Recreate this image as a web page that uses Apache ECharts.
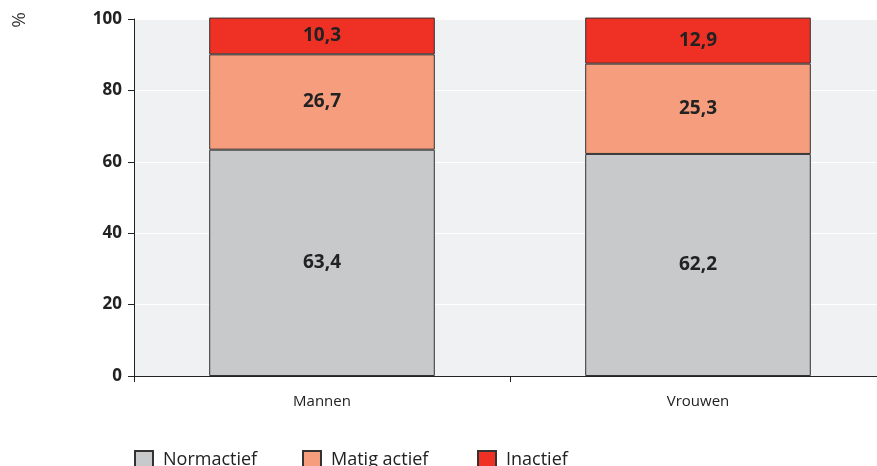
<!DOCTYPE html>
<html><head><meta charset="utf-8">
<script src="https://cdn.jsdelivr.net/npm/echarts@6/dist/echarts.min.js"></script>
<style>html,body{margin:0;padding:0;background:#fff;overflow:hidden}#c{width:886px;height:466px}</style>
</head><body><div id="c"></div>
<script>
const categories = ['Mannen', 'Vrouwen'];
const seriesNames = ['Normactief', 'Matig actief', 'Inactief'];
const normactief = [63.4, 62.2];
const matigActief = [26.7, 25.3];
const inactief = [10.3, 12.9];
const yTicks = [0, 20, 40, 60, 80, 100];

const colors = ['#c8c9cb', '#f59d7c', '#ee3124'];
const values = [normactief, matigActief, inactief];
const legendLefts = [134, 302, 477];
const chart = echarts.init(document.getElementById('c'), null, {renderer: 'canvas'});
const font = '"Open Sans", "Noto Sans", sans-serif';
chart.setOption({
  animation: false,
  grid: {left: 134, right: 0, top: 19, bottom: 90, show: true, backgroundColor: '#f0f1f3', borderWidth: 0},
  legend: seriesNames.map((n, i) => ({
    left: legendLefts[i], top: 450, padding: 0, itemWidth: 18, itemHeight: 18,
    icon: 'rect', selectedMode: false,
    textStyle: {fontFamily: font, fontSize: 18, color: '#222', padding: [0, 0, 0, 5]},
    data: [n]
  })),
  xAxis: {
    type: 'category', data: categories,
    axisLine: {lineStyle: {color: '#222', width: 1}},
    axisTick: {show: true, length: 6, lineStyle: {color: '#222'}},
    axisLabel: {fontFamily: font, fontSize: 15, color: '#222', margin: 18}
  },
  yAxis: {
    type: 'value', min: 0, max: 100, interval: 20,
    axisLine: {show: true, lineStyle: {color: '#222', width: 1}},
    axisTick: {show: true, length: 6, lineStyle: {color: '#222'}},
    axisLabel: {fontFamily: font, fontSize: 17, fontWeight: 'bold', color: '#222', margin: 12,
      formatter: v => yTicks.includes(v) ? String(v) : ''},
    splitLine: {show: true, lineStyle: {color: '#ffffff', width: 1}}
  },
  graphic: [{
    type: 'text', left: 10, top: 12, rotation: Math.PI / 2,
    style: {text: '%', fontFamily: font, fontSize: 19, fill: '#333'}
  }],
  series: seriesNames.map((name, i) => ({
    name, type: 'bar', stack: 'total', barWidth: '60%', clip: false,
    data: values[i],
    itemStyle: {color: colors[i], borderColor: '#333', borderWidth: 1},
    label: {show: true, position: 'inside', fontFamily: font, fontSize: 19, fontWeight: 'bold', color: '#222',
      formatter: p => p.value.toFixed(1).replace('.', ',')},
    emphasis: {disabled: true}
  }))
});
</script></body></html>
